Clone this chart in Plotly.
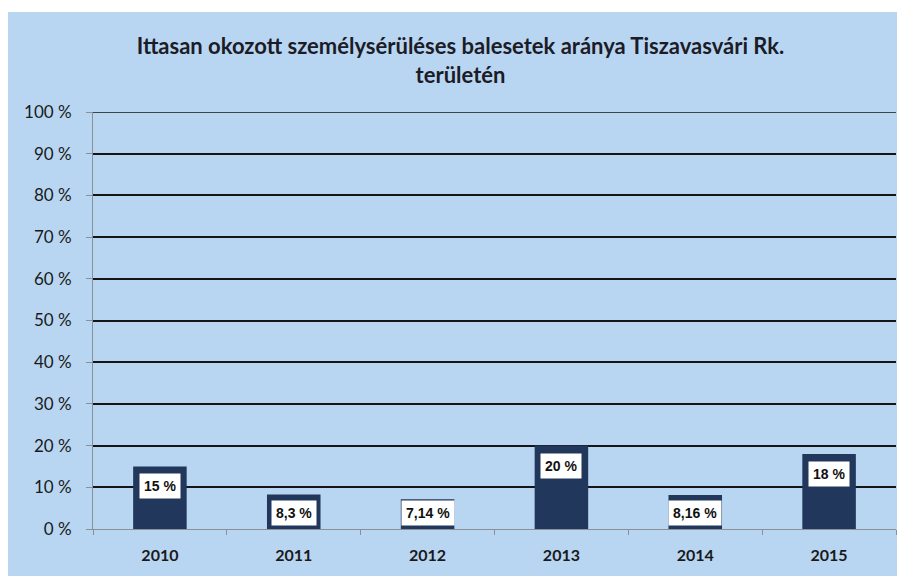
import plotly.graph_objects as go

years = ["2010", "2011", "2012", "2013", "2014", "2015"]
values = [15, 8.3, 7.14, 20, 8.16, 18]
value_labels = ["15 %", "8,3 %", "7,14 %", "20 %", "8,16 %", "18 %"]
y_ticks = [0, 10, 20, 30, 40, 50, 60, 70, 80, 90, 100]
y_tick_labels = [f"{t} %" for t in y_ticks]
title = "Ittasan okozott személysérüléses balesetek aránya Tiszavasvári Rk.<br>területén"

BG = "#b8d6f1"
BAR = "#22375c"
W, H = 905, 576
# page body has an 8px margin, so figure coords = page coords - 8
L, R, T, B = 85, 17, 104, 55
plot_h = H - T - B
pw = W - L - R
px_per_unit = plot_h / 100.0

fig = go.Figure()
fig.add_trace(go.Bar(
    x=years, y=values, width=0.4,
    marker=dict(color=BAR, line=dict(width=0)),
    hoverinfo="skip",
))

annotations = []
for i, (v, lab) in enumerate(zip(values, value_labels)):
    if v * px_per_unit - 20 >= 15:
        yy, shift = v, -20
    else:
        yy, shift = 0, 16
    annotations.append(dict(
        x=i, y=yy, yshift=shift, xref="x", yref="y",
        text=f"<b>{lab}</b>", showarrow=False,
        font=dict(family="Liberation Sans, Arial", size=14, color="#111"),
        bgcolor="white", borderpad=4, yanchor="middle",
    ))

shapes = [
    dict(type="rect", xref="paper", yref="paper", layer="below",
         x0=-L / pw, x1=(W - L) / pw,
         y0=-B / plot_h, y1=(H - 4 - B) / plot_h,
         fillcolor=BG, line=dict(width=0)),
    dict(type="line", xref="paper", yref="y", x0=0, x1=1, y0=y_ticks[-1], y1=y_ticks[-1],
         line=dict(color="#151515", width=1.5)),
]

fig.update_layout(
    width=W, height=H,
    margin=dict(l=L, r=R, t=T, b=B, autoexpand=False),
    paper_bgcolor="white", plot_bgcolor=BG,
    showlegend=False,
    bargap=0.6,
    title=dict(text=f"<b>{title}</b>", x=0.5, xanchor="center", y=1 - 46 / H, yanchor="top",
               font=dict(family="Lato, Open Sans", size=22, color="#1c1c28")),
    xaxis=dict(
        type="category", showgrid=False, showline=True, linecolor="#8a9096", linewidth=1,
        ticks="outside", tickson="boundaries", ticklen=5, tickcolor="#8a9096",
        tickfont=dict(family="Lato, Open Sans", size=16, color="#1a1a1a", weight="bold"),
        ticklabelstandoff=12, tickangle=0, automargin=False,
        fixedrange=True,
    ),
    yaxis=dict(
        range=[0, 100], tickvals=y_ticks, ticktext=y_tick_labels,
        showgrid=True, gridcolor="#151515", gridwidth=1.5,
        showline=True, linecolor="#8a9096", linewidth=1, zeroline=False,
        ticks="outside", ticklen=6, tickcolor="#8a9096",
        tickfont=dict(family="Lato, Open Sans", size=17, color="#1a1a1a"),
        ticklabelstandoff=11, automargin=False,
        fixedrange=True,
    ),
    annotations=annotations,
    shapes=shapes,
)

fig.write_html("out.html")
